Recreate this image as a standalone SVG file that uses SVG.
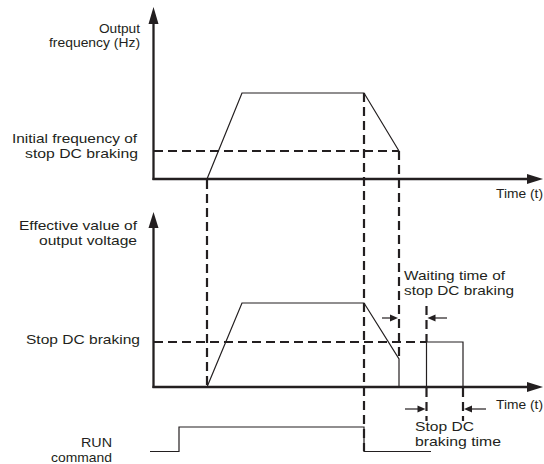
<svg xmlns="http://www.w3.org/2000/svg" width="544" height="464" viewBox="0 0 544 464">
<style>
text{font-family:"Liberation Sans",Arial,sans-serif;font-size:13px;fill:#231f20}
.axis{stroke:#231f20;stroke-width:2.3;fill:none}
.curve{stroke:#231f20;stroke-width:1.2;fill:none}
.dash{stroke:#231f20;stroke-width:2.2;fill:none;stroke-dasharray:9 5}
.dim{stroke:#231f20;stroke-width:1.2;fill:none}
.ah{fill:#231f20}
</style>
<rect width="544" height="464" fill="#fff"/>
<g id="upper-plot">
<line class="axis" x1="153.5" y1="22" x2="153.5" y2="180"/>
<polygon class="ah" points="153.5,7 148.5,24 158.5,24"/>
<line class="axis" x1="152.5" y1="179" x2="530" y2="179"/>
<polygon class="ah" points="543,179 527,174 527,184"/>
<polyline class="curve" points="207,179 242,93 364,93 399,151"/>
<line class="dash" x1="154" y1="151" x2="399" y2="151"/>
<text x="99" y="32.5" textLength="41" lengthAdjust="spacingAndGlyphs">Output</text>
<text x="49" y="47.2" textLength="91" lengthAdjust="spacingAndGlyphs">frequency (Hz)</text>
<text x="12" y="143.3" textLength="125" lengthAdjust="spacingAndGlyphs">Initial frequency of</text>
<text x="25" y="158" textLength="113" lengthAdjust="spacingAndGlyphs">stop DC braking</text>
<text x="496" y="198" textLength="47" lengthAdjust="spacingAndGlyphs">Time (t)</text>
</g>
<g id="lower-plot">
<line class="axis" x1="153.5" y1="226" x2="153.5" y2="388"/>
<polygon class="ah" points="153.5,212 148.5,228 158.5,228"/>
<line class="axis" x1="152.5" y1="387" x2="530" y2="387"/>
<polygon class="ah" points="543,387 527,382 527,392"/>
<polyline class="curve" points="207,387 242,303 364,303 399,359 399,387"/>
<line class="dash" x1="154" y1="342" x2="426.5" y2="342"/>
<polyline class="curve" points="426.5,387 426.5,342 463,342 463,387"/>
<text x="19" y="229.5" textLength="118" lengthAdjust="spacingAndGlyphs">Effective value of</text>
<text x="39" y="244.5" textLength="98" lengthAdjust="spacingAndGlyphs">output voltage</text>
<text x="26" y="344" textLength="114" lengthAdjust="spacingAndGlyphs">Stop DC braking</text>
<text x="496" y="409" textLength="47" lengthAdjust="spacingAndGlyphs">Time (t)</text>
</g>
<g id="run-command">
<polyline class="curve" points="150,451.5 179,451.5 179,427 364,427 364,451.5 431,451.5"/>
<text x="81" y="446.8" textLength="31" lengthAdjust="spacingAndGlyphs">RUN</text>
<text x="51" y="461.5" textLength="61" lengthAdjust="spacingAndGlyphs">command</text>
</g>
<g id="connectors">
<line class="dash" x1="207" y1="180" x2="207" y2="387"/>
<line class="dash" x1="364" y1="93" x2="364" y2="451"/>
<line class="dash" x1="399" y1="151" x2="399" y2="359"/>
<line class="dash" x1="426.5" y1="306" x2="426.5" y2="342"/>
<line class="dash" x1="426.5" y1="388" x2="426.5" y2="421"/>
<line class="dash" x1="463" y1="388" x2="463" y2="421"/>
</g>
<g id="dimensions">
<line class="dim" x1="382" y1="318" x2="392" y2="318"/>
<polygon class="ah" points="398,318 390,314.5 390,321.5"/>
<line class="dim" x1="447" y1="318" x2="433" y2="318"/>
<polygon class="ah" points="427.5,318 435.5,314.5 435.5,321.5"/>
<text x="404" y="280" textLength="101" lengthAdjust="spacingAndGlyphs">Waiting time of</text>
<text x="404" y="295" textLength="110" lengthAdjust="spacingAndGlyphs">stop DC braking</text>
<line class="dim" x1="405" y1="409" x2="419" y2="409"/>
<polygon class="ah" points="425.5,409 417.5,405.5 417.5,412.5"/>
<line class="dim" x1="486" y1="409" x2="470" y2="409"/>
<polygon class="ah" points="464,409 472,405.5 472,412.5"/>
<text x="415" y="431" textLength="59" lengthAdjust="spacingAndGlyphs">Stop DC</text>
<text x="415" y="445.7" textLength="86" lengthAdjust="spacingAndGlyphs">braking time</text>
</g>
</svg>
